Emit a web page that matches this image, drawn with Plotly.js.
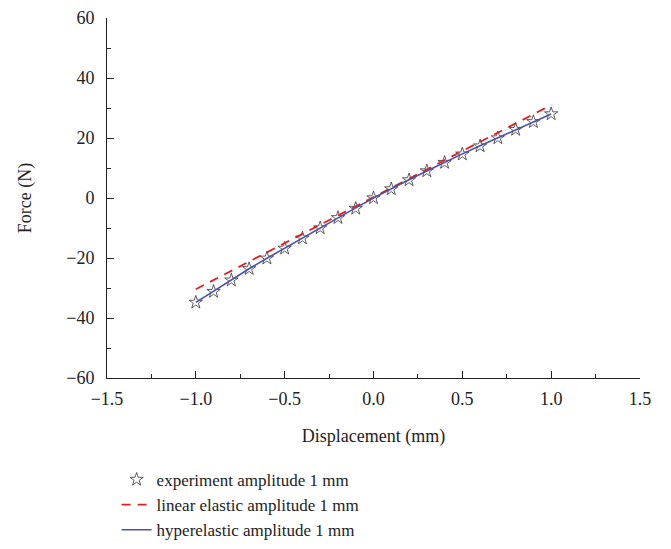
<!DOCTYPE html>
<html>
<head>
<meta charset="utf-8">
<script src="https://cdn.plot.ly/plotly-3.0.1.min.js"></script>
<style>html,body{margin:0;padding:0;background:#fff;}</style>
</head>
<body>
<div id="chart" style="width:671px;height:549px;"></div>
<script>
const displacement = [-1.0, -0.9, -0.8, -0.7, -0.6, -0.5, -0.4, -0.3, -0.2, -0.1, 0.0, 0.1, 0.2, 0.3, 0.4, 0.5, 0.6, 0.7, 0.8, 0.9, 1.0];
const experimentForce = [-34.8, -31.2, -27.4, -23.6, -20.1, -16.8, -13.4, -10.0, -6.6, -3.5, 0.0, 3.0, 6.0, 9.0, 11.8, 14.6, 17.3, 20.0, 22.8, 25.4, 28.0];
const linearDisp = [-1.0, 0.0, 1.0];
const linearForce = [-30.4, 0.3, 31.0];
const hyperForce = [-34.8, -31.0, -27.3, -23.6, -20.1, -16.7, -13.3, -9.9, -6.6, -3.3, 0.0, 3.1, 6.1, 9.0, 11.9, 14.7, 17.4, 20.1, 22.8, 25.4, 28.0];
const seriesNames = ["experiment amplitude 1 mm", "linear elastic amplitude 1 mm", "hyperelastic amplitude 1 mm"];

const font = "'Liberation Serif', 'Times New Roman', serif";
const fs = 18;
const traces = [
  {x: displacement, y: experimentForce, mode: "markers", name: seriesNames[0],
   marker: {symbol: "star-open", size: 10, color: "#333", line: {width: 0.8, color: "#333"}}},
  {x: linearDisp, y: linearForce, mode: "lines", name: seriesNames[1],
   line: {color: "#e0201e", width: 1.8, dash: "9px,7px"}},
  {x: displacement, y: hyperForce, mode: "lines", name: seriesNames[2],
   line: {color: "#4a4fb0", width: 1.6}}
];
const axisCommon = {
  showgrid: false, zeroline: false, showline: true, linecolor: "#222", linewidth: 1,
  ticks: "inside", ticklen: 7, tickcolor: "#222", tickwidth: 1,
  tickfont: {family: font, size: fs, color: "#222"}
};
const plotH = 531;
const yBottom = (549 - 378) / plotH;
const layout = {
  width: 671, height: 549,
  margin: {l: 107, r: 31, t: 18, b: 0},
  paper_bgcolor: "#fff", plot_bgcolor: "#fff",
  font: {family: font, size: fs, color: "#222"},
  xaxis: Object.assign({}, axisCommon, {
    range: [-1.5, 1.5], dtick: 0.5, tick0: -1.5, tickformat: ".1f",
    ticklabelstandoff: 4,
    minor: {dtick: 0.25, ticks: "inside", ticklen: 4, tickcolor: "#222"},
    title: {text: "Displacement (mm)", font: {family: font, size: fs, color: "#222"}, standoff: 21}
  }),
  yaxis: Object.assign({}, axisCommon, {
    range: [-60, 60], dtick: 20, tick0: -60, domain: [yBottom, 1],
    ticklabelstandoff: 8,
    minor: {dtick: 10, ticks: "inside", ticklen: 4, tickcolor: "#222"},
    title: {text: "Force (N)", font: {family: font, size: fs, color: "#222"}, standoff: 29}
  }),
  showlegend: true,
  legend: {x: 0.018, xanchor: "left", y: 0.002, yanchor: "bottom",
           font: {family: font, size: 17, color: "#222"}, bgcolor: "rgba(0,0,0,0)",
           tracegroupgap: 0}
};
Plotly.newPlot("chart", traces, layout, {displayModeBar: false, staticPlot: true});
</script>
</body>
</html>
